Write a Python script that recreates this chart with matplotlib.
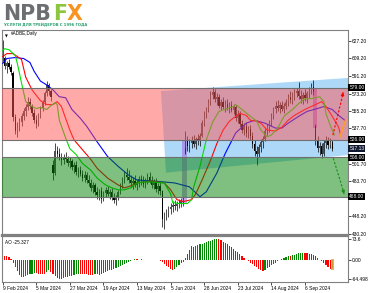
import matplotlib
matplotlib.use("Agg")
import matplotlib.pyplot as plt
from matplotlib.patches import Polygon, Rectangle
from matplotlib.transforms import blended_transform_factory

plt.rcParams['font.family'] = ['Liberation Sans', 'DejaVu Sans']

# ADBE daily bars, 9 Feb 2024 .. 25 Sep 2024
opens = [620, 610, 601, 604, 600, 594, 549, 535, 540, 544,
         550, 555, 560, 565, 561, 553, 546, 542, 551, 559,
         565, 574, 582, 576, 500, 492, 515, 512, 508, 505,
         509, 506, 502, 504, 498, 500, 493, 495, 491, 487,
         490, 485, 482, 477, 480, 473, 470, 474, 466, 472,
         475, 471, 473, 468, 465, 467, 473, 480, 485, 490,
         488, 485, 482, 484, 480, 483, 486, 484, 481, 485,
         488, 484, 480, 483, 476, 479, 474, 445, 448, 452,
         455, 457, 460, 458, 461, 462, 464, 518, 525, 520,
         523, 526, 522, 527, 525, 530, 543, 552, 557, 565,
         572, 575, 568, 570, 561, 565, 560, 563, 558, 562,
         556, 560, 548, 552, 542, 536, 540, 533, 537, 530,
         522, 515, 512, 519, 524, 527, 535, 539, 543, 550,
         557, 561, 558, 562, 557, 561, 565, 570, 567, 572,
         574, 576, 571, 568, 572, 569, 574, 577, 580, 540,
         525, 518, 520, 512, 523, 526, 521, 524]
highs = [628, 612, 606, 608, 603, 596, 552, 544, 548, 553,
         558, 563, 570, 569, 563, 557, 551, 553, 561, 567,
         576, 586, 584, 578, 505, 523, 520, 518, 513, 512,
         514, 510, 508, 506, 503, 504, 498, 499, 495, 494,
         493, 490, 486, 483, 482, 478, 476, 478, 474, 478,
         479, 476, 477, 472, 470, 475, 482, 488, 494, 497,
         495, 490, 488, 490, 486, 489, 490, 489, 487, 492,
         493, 489, 486, 487, 482, 483, 475, 452, 455, 458,
         462, 464, 465, 464, 466, 467, 468, 535, 530, 527,
         530, 531, 529, 532, 533, 546, 555, 560, 568, 576,
         580, 578, 574, 573, 568, 570, 567, 568, 565, 566,
         563, 562, 556, 555, 546, 543, 544, 540, 541, 534,
         526, 520, 522, 527, 530, 538, 542, 546, 553, 560,
         566, 567, 565, 566, 564, 568, 573, 576, 575, 578,
         579, 585, 577, 575, 578, 576, 580, 584, 587, 542,
         530, 524, 523, 526, 530, 529, 528, 526]
lows = [606, 598, 594, 598, 592, 545, 532, 529, 535, 540,
        546, 550, 556, 557, 550, 543, 538, 540, 548, 555,
        562, 571, 572, 566, 485, 490, 507, 505, 500, 501,
        503, 499, 497, 495, 492, 490, 488, 489, 484, 483,
        482, 479, 474, 472, 470, 466, 465, 462, 464, 468,
        469, 466, 465, 462, 460, 465, 471, 477, 482, 485,
        482, 478, 476, 478, 475, 478, 480, 478, 477, 481,
        482, 477, 476, 473, 471, 470, 437, 435, 444, 447,
        450, 452, 454, 453, 456, 457, 459, 512, 515, 514,
        518, 519, 517, 521, 520, 529, 540, 548, 554, 562,
        568, 565, 562, 558, 556, 557, 554, 556, 553, 554,
        552, 545, 543, 539, 533, 531, 529, 528, 526, 518,
        510, 500, 508, 514, 518, 525, 531, 534, 540, 547,
        553, 555, 553, 555, 553, 557, 561, 564, 563, 567,
        570, 568, 564, 563, 566, 564, 569, 573, 572, 521,
        514, 511, 507, 510, 518, 517, 518, 515]
closes = [610, 601, 604, 600, 595, 549, 535, 540, 544, 550,
          555, 560, 565, 561, 553, 546, 542, 551, 559, 565,
          574, 582, 576, 570, 492, 515, 512, 508, 505, 509,
          506, 502, 504, 498, 500, 493, 495, 491, 487, 490,
          485, 482, 477, 480, 473, 470, 474, 466, 472, 475,
          471, 473, 468, 465, 467, 473, 480, 485, 490, 488,
          485, 482, 484, 480, 483, 486, 484, 481, 485, 488,
          484, 480, 483, 476, 479, 474, 445, 448, 452, 455,
          457, 460, 458, 461, 462, 464, 466, 525, 520, 523,
          526, 522, 527, 525, 530, 543, 552, 557, 565, 572,
          575, 568, 570, 561, 565, 560, 563, 558, 562, 556,
          560, 548, 552, 542, 536, 540, 533, 537, 530, 522,
          515, 512, 519, 524, 527, 535, 539, 543, 550, 557,
          561, 558, 562, 557, 561, 565, 570, 567, 572, 574,
          576, 571, 568, 572, 569, 574, 577, 580, 575, 525,
          518, 520, 512, 523, 526, 521, 524, 517.13]

# Alligator lines (bar index, price)
jaw_bars = [0, 2, 6, 10, 13, 15, 18, 21, 24, 27, 30, 33, 37, 40, 45, 50, 55, 60, 64, 71,
            77, 82, 89, 94, 97, 102, 106, 111, 116, 120, 125, 130, 133, 136, 141, 145, 150,
            153, 157, 160, 163]
jaw_vals = [604, 609, 610, 609, 605, 596, 586, 582, 577, 570, 569, 557, 548, 540, 524, 509,
            499, 490, 485, 484, 483, 482, 478, 468, 473, 492, 512, 533, 543, 546, 543, 538,
            538, 543, 550, 555, 558, 560, 557, 551, 546]
teeth_bars = [0, 2, 5, 7, 9, 11, 14, 18, 21, 24, 26, 28, 30, 32, 34, 38, 42, 45, 50, 55,
              58, 61, 64, 71, 77, 80, 83, 86, 90, 92, 95, 99, 102, 105, 108, 111, 113, 116,
              118, 121, 123, 126, 130, 133, 136, 139, 144, 149, 152, 154, 157, 160, 161]
teeth_vals = [611, 614, 614, 611, 608, 590, 577, 566, 562, 562, 565, 560, 548, 536, 526,
              516, 506, 497, 487, 480, 477, 479, 482, 484, 482, 475, 465, 463, 465, 471,
              485, 505, 522, 536, 545, 550, 553, 551, 546, 545, 543, 536, 535, 539, 546,
              551, 557, 562, 565, 560, 550, 539, 531]
lips_bars = [0, 1, 3, 6, 7, 9, 11, 14, 16, 18, 21, 23, 25, 26, 27, 30, 32, 35, 38, 42,
             45, 49, 52, 55, 58, 61, 64, 67, 71, 77, 80, 81, 84, 88, 90, 91, 94, 97, 100,
             103, 107, 110, 111, 114, 118, 121, 123, 126, 128, 131, 134, 138, 141, 144,
             147, 151, 153, 154, 156, 158]
lips_vals = [617, 619, 618, 612, 604, 584, 565, 560, 558, 559, 557, 561, 564, 562, 546,
             528, 517, 511, 502, 495, 487, 480, 477, 475, 475, 477, 482, 483, 483, 482,
             471, 462, 461, 461, 465, 478, 499, 526, 544, 555, 558, 560, 562, 557, 550,
             545, 536, 529, 531, 538, 550, 557, 563, 568, 568, 570, 565, 553, 541, 531]

# Awesome Oscillator
ao_values = [19, 16.5, 14, 11, 4, -8, -22, -36, -49, -58,
             -56, -53, -50, -47, -45, -43, -44, -45, -46, -47,
             -48, -40, -32, -38, -46, -53, -59, -64.498, -62, -60,
             -58, -56, -54, -52, -50, -48, -46, -46.5, -47, -47.5,
             -48, -48.5, -49, -49.5, -47, -48, -49, -46, -43, -40,
             -37, -34, -31, -28, -25, -22, -19, -16, -13, -10,
             -6, -2, 2, 5, 4, 3, 3.5, 2, 2.5, 3,
             1, 1.5, 2, 0.5, 1, -1, -5, -12, -18, -24,
             -29, -32, -28, -22, -16, -10, -4, 8, 22, 36,
             48, 46, 49, 52, 55, 58, 61, 64, 66, 68,
             70, 72, 73.6, 72, 69, 65, 61, 56, 51, 46,
             40, 34, 28, 22, 15, 8, 2, -3, -8, -13,
             -18, -23, -28, -32, -35, -31, -27, -22, -17, -12,
             -7, -3, 1, 5, 9, 13, 16, 15, 18, 20,
             22, 24, 25, 26.5, 25, 24, 23, 22, 20, 14,
             8, 3, -3, -8, -16, -23, -28, -25.327]

date_bars = [0, 16, 32, 48, 64, 80, 96, 112, 128, 144]
date_labels = ['9 Feb 2024', '5 Mar 2024', '27 Mar 2024', '19 Apr 2024', '13 May 2024',
               '5 Jun 2024', '28 Jun 2024', '23 Jul 2024', '14 Aug 2024', '6 Sep 2024']
price_ticks = [627.2, 609.2, 591.2, 573.2, 555.2, 537.7, 501.7, 483.7, 448.2, 430.2]
resist_zone = (526.0, 579.0)
support_zone = (468.0, 508.0)
last_price = 517.13
ao_ticks = [73.6, 0.0, -64.498]
ao_tick_labels = ['73.6', '0.00', '-64.498']

W, H = 369, 293
fig = plt.figure(figsize=(W / 100, H / 100), dpi=100)
ax = fig.add_axes([2 / W, 1 - 235 / H, 346 / W, 205 / H])
ao = fig.add_axes([2 / W, 1 - 282 / H, 346 / W, 46 / H], sharex=ax)

n = len(closes)
bars = list(range(n))
ax.set_xlim(-0.3, 164.5)
ax.set_ylim(428.9, 638.1)
ao.set_ylim(-73.8, 83.9)

# channel drawn under everything
ax.add_patch(Polygon([(75.4, 575.8), (166, 589.4), (166, 510.8), (77.8, 492.5)],
                     closed=True, facecolor='#aed8f7', edgecolor='none', zorder=1))
# gap markers
ax.add_patch(Rectangle((85.4, 461.6), 2.4, 64.2, facecolor='#a070e0', alpha=0.6,
                       edgecolor='none', zorder=1.5))
ax.add_patch(Rectangle((147.7, 538.1), 2.2, 40.8, facecolor='#a050d0', alpha=0.6,
                       edgecolor='none', zorder=1.5))

# candles
ax.vlines(bars, lows, highs, color='black', lw=0.5, zorder=2)
body_low = [min(o, c) for o, c in zip(opens, closes)]
body_h = [max(abs(c - o), 0.6) for o, c in zip(opens, closes)]
body_col = ['#505050' if c >= o else 'black' for o, c in zip(opens, closes)]
ax.bar(bars, body_h, bottom=body_low, width=0.6, color=body_col, lw=0, zorder=2)

# alligator
ax.plot(jaw_bars, jaw_vals, color='#0000ff', lw=0.8, zorder=3)
ax.plot(teeth_bars, teeth_vals, color='#ff0000', lw=0.8, zorder=3)
ax.plot(lips_bars, lips_vals, color='#00e000', lw=0.8, zorder=3)

# zones on top, semi transparent
ax.add_patch(Rectangle((-2, resist_zone[0]), 170, resist_zone[1] - resist_zone[0],
                       facecolor='#ff5555', alpha=0.5, edgecolor='none', zorder=4))
ax.add_patch(Rectangle((-2, support_zone[0]), 170, support_zone[1] - support_zone[0],
                       facecolor='#008000', alpha=0.5, edgecolor='none', zorder=4))
ax.hlines(list(resist_zone) + list(support_zone), -2, 170, colors='#707070', lw=0.8, zorder=4.5)

# forecast arrows
ax.plot([160.7, 163.4], [529.2, 546.2], color='#ff9a30', lw=1.3, zorder=5)
ax.plot([157.3, 162.0], [530.9, 572.0], color='#ff0000', lw=0.8, ls=(0, (2, 1.5)), zorder=5)
ax.annotate('', xy=(162.4, 577.5), xytext=(161.9, 571.0),
            arrowprops=dict(arrowstyle='-|>', color='#ff0000', lw=0.6, mutation_scale=5), zorder=5)
ax.plot([157.5, 162.4], [507.2, 473.0], color='#1a8a1a', lw=0.8, ls=(0, (2, 1.5)), zorder=5)
ax.annotate('', xy=(163.0, 468.0), xytext=(162.3, 473.5),
            arrowprops=dict(arrowstyle='-|>', color='#1a8a1a', lw=0.6, mutation_scale=5), zorder=5)

# AO histogram
ao_col = ['#ff0000'] + ['#008800' if ao_values[i] > ao_values[i - 1] else '#ff0000'
                        for i in range(1, n)]
ao.bar(bars, ao_values, width=0.55, color=ao_col, lw=0, zorder=2)
ao.add_patch(Rectangle((156.4, -31), 1.3, 36, facecolor='#e8a040', alpha=0.85,
                       edgecolor='none', zorder=3))

# axes styling
for a in (ax, ao):
    for s in a.spines.values():
        s.set_color('#808080')
        s.set_linewidth(0.8)
ax.spines['bottom'].set_linewidth(1.6)
ao.spines['top'].set_linewidth(1.6)

ax.yaxis.tick_right()
ax.set_yticks(price_ticks)
ax.set_yticklabels([f'{v:.2f}' for v in price_ticks])
ax.tick_params(axis='y', labelsize=3.5, length=2, width=0.5, pad=1, colors='black')
ax.tick_params(axis='x', bottom=False, labelbottom=False)

ao.yaxis.tick_right()
ao.set_yticks(ao_ticks)
ao.set_yticklabels(ao_tick_labels)
ao.tick_params(axis='y', labelsize=3.5, length=2, width=0.5, pad=1)
ao.set_xticks(date_bars)
ao.set_xticklabels(date_labels, ha='left')
ao.tick_params(axis='x', labelsize=3.5, length=2, width=0.5, pad=0.8)

# boxed price labels on the right scale
tr = blended_transform_factory(ax.transAxes, ax.transData)
for p, fc in [(579.0, 'black'), (526.0, 'black'), (last_price, '#101830'),
              (508.0, 'black'), (468.0, 'black')]:
    ax.text(1.004, p, f'{p:.2f}', transform=tr, fontsize=3.5, color='white',
            va='center', ha='left', clip_on=False, zorder=10,
            bbox=dict(facecolor=fc, edgecolor='none', pad=0.7))

ax.text(3 / 346, 1 - 4 / 205, '\u25bc', transform=ax.transAxes, fontsize=2.6,
        va='top', ha='left', family='DejaVu Sans')
ax.text(9 / 346, 1 - 1.5 / 205, '#ADBE,Daily', transform=ax.transAxes, fontsize=3.3,
        va='top', ha='left')
ao.text(3 / 346, 1 - 4 / 46, 'AO -25.327', transform=ao.transAxes, fontsize=3.3,
        va='top', ha='left')

# logo
fig.text(3 / W, 1 - 19.5 / H, 'NPB', fontsize=14.8, fontweight='bold', color='#6d6e71',
         family='DejaVu Sans', va='baseline')
fig.text(53.5 / W, 1 - 19.5 / H, 'F', fontsize=14.8, fontweight='bold', color='#8cc63e',
         family='DejaVu Sans', va='baseline')
fig.text(66.5 / W, 1 - 19.5 / H, 'X', fontsize=14.8, fontweight='bold', color='#f7931e',
         family='DejaVu Sans', va='baseline')
fig.text(4 / W, 1 - 26.5 / H, 'УСЛУГИ ДЛЯ ТРЕЙДЕРОВ С 1996 ГОДА', fontsize=2.7,
         fontweight='bold', color='#2a9d6e', family='DejaVu Sans', va='baseline')

fig.savefig('out.png', dpi=100)
